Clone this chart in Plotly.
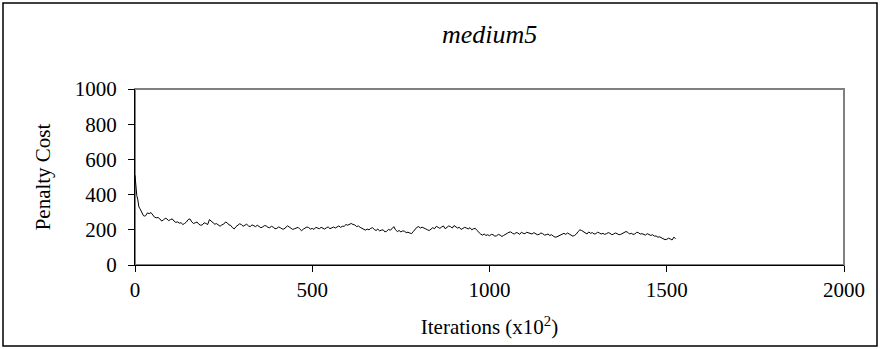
import plotly.graph_objects as go

early_iter = [0, 1, 3, 5, 8, 11, 14, 17, 20, 24, 27]
early_cost = [510, 480, 420, 395, 370, 330, 320, 305, 300, 280, 278]

grid_iter = list(range(30, 1530, 5))
grid_cost = [
    280, 296, 292, 298, 285, 272, 268, 270, 262, 250,
    255, 266, 262, 252, 258, 262, 250, 242, 245, 238,
    240, 230, 236, 244, 258, 262, 245, 236, 240, 244,
    232, 226, 228, 240, 236, 230, 258, 248, 240, 232,
    235, 226, 220, 228, 232, 244, 240, 228, 225, 212,
    205, 218, 225, 234, 230, 220, 226, 232, 222, 218,
    228, 222, 218, 226, 220, 212, 216, 224, 222, 214,
    212, 220, 215, 206, 208, 216, 212, 205, 204, 214,
    222, 216, 210, 202, 206, 212, 214, 204, 195, 204,
    210, 216, 212, 204, 208, 202, 214, 210, 206, 214,
    210, 204, 212, 216, 206, 210, 216, 210, 218, 222,
    214, 220, 220, 230, 226, 232, 236, 230, 228, 218,
    222, 214, 210, 204, 198, 204, 200, 208, 212, 202,
    196, 204, 194, 198, 200, 188, 192, 202, 198, 206,
    218, 200, 190, 196, 188, 194, 192, 184, 186, 182,
    178, 190, 205, 214, 218, 210, 215, 208, 205, 200,
    196, 204, 212, 206, 220, 214, 208, 216, 222, 206,
    212, 222, 218, 210, 224, 216, 210, 214, 202, 208,
    214, 210, 205, 212, 200, 206, 208, 196, 185, 176,
    170, 176, 168, 172, 166, 174, 172, 164, 166, 174,
    170, 162, 168, 176, 180, 186, 188, 180, 176, 184,
    182, 174, 186, 180, 178, 186, 184, 178, 176, 184,
    180, 172, 174, 182, 178, 170, 172, 176, 168, 172,
    164, 158, 160, 166, 170, 176, 180, 174, 182, 176,
    170, 164, 168, 176, 190, 200, 196, 188, 182, 176,
    188, 180, 184, 176, 178, 186, 182, 176, 180, 174,
    178, 184, 180, 172, 176, 182, 178, 172, 174, 180,
    182, 190, 186, 176, 180, 174, 176, 186, 184, 176,
    178, 172, 170, 178, 175, 168, 172, 164, 165, 158,
    160, 154, 150, 144, 146, 152, 148, 142, 158, 150,
]

iterations = early_iter + grid_iter
penalty = early_cost + grid_cost

x_ticks = [0, 500, 1000, 1500, 2000]
y_ticks = [0, 200, 400, 600, 800, 1000]

FONT = "Liberation Serif"

fig = go.Figure()
fig.add_trace(go.Scatter(x=iterations, y=penalty, mode="lines",
                         line=dict(color="black", width=1), showlegend=False,
                         hoverinfo="skip"))

L, R, T, B = 135, 36, 89, 84
W, H = 880, 349
pw = W - L - R
ph = H - T - B

def px_x(p):
    return (p - L) / pw

def px_y(p):
    return (H - B - p) / ph

fig.update_layout(
    width=W, height=H,
    margin=dict(l=L, r=R, t=T, b=B),
    paper_bgcolor="white", plot_bgcolor="white",
    font=dict(family=FONT, color="black", size=21),
    xaxis=dict(range=[0, 2000], tickvals=x_ticks, showgrid=False, zeroline=False,
               showline=True, linecolor="black", linewidth=1,
               ticks="outside", ticklen=6, tickcolor="black", tickwidth=1,
               tickfont=dict(family=FONT, size=21), fixedrange=True,
               title=dict(text="Iterations (x10<sup>2</sup>)", standoff=18,
                          font=dict(family=FONT, size=21))),
    yaxis=dict(range=[0, 1000], tickvals=y_ticks, showgrid=False, zeroline=False,
               showline=True, linecolor="black", linewidth=1,
               ticks="outside", ticklen=6, tickcolor="black", tickwidth=1,
               ticklabelstandoff=7,
               tickfont=dict(family=FONT, size=21), fixedrange=True,
               title=dict(text="Penalty Cost", standoff=18,
                          font=dict(family=FONT, size=21))),
    shapes=[
        dict(type="rect", xref="paper", yref="paper", x0=0, x1=1, y0=0, y1=1,
             line=dict(color="#808080", width=2), layer="below"),
        dict(type="rect", xref="paper", yref="paper",
             x0=px_x(3), x1=px_x(877), y0=px_y(346), y1=px_y(3),
             line=dict(color="black", width=1.5)),
    ],
    annotations=[
        dict(text="medium5", xref="paper", yref="paper", x=0.5, y=px_y(35),
             xanchor="center", yanchor="middle", showarrow=False,
             font=dict(family=FONT, size=26, style="italic")),
    ],
)

fig.write_html("out.html", config={"displayModeBar": False},
               post_script="document.body.style.margin='0px';")
